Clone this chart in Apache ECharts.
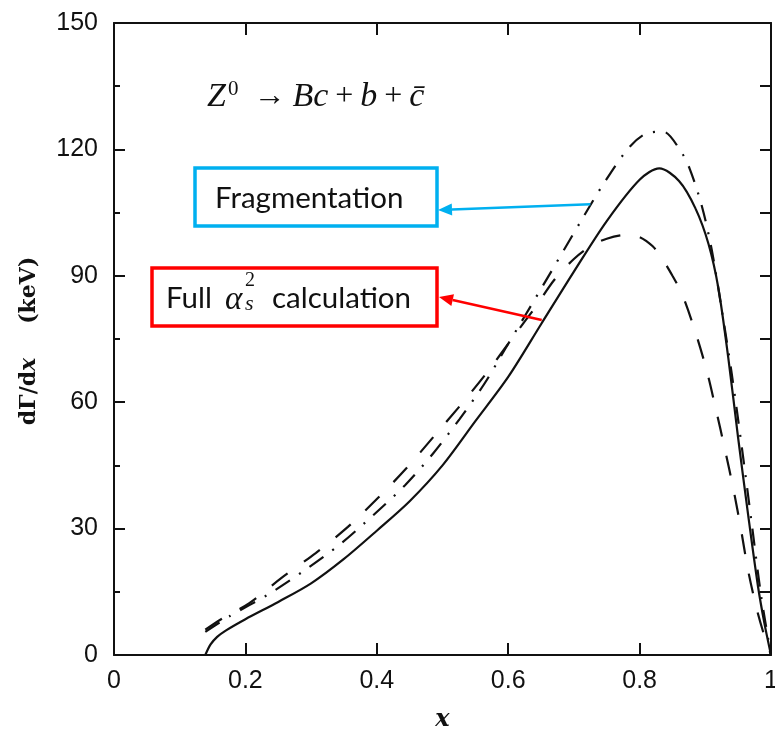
<!DOCTYPE html>
<html>
<head>
<meta charset="utf-8">
<script src="https://cdn.jsdelivr.net/npm/echarts@6/dist/echarts.min.js"></script>
<style>
html,body{margin:0;padding:0;background:#fff;}
#chart{width:775px;height:731px;}
</style>
</head>
<body>
<div id="chart"></div>
<script>
// Axis ranges and tick steps
const xRange = [0, 1];
const xStep = 0.2;
const yRange = [0, 150];
const yStep = 30;
const yFrameStep = 15;

// Full alpha_s^2 calculation (solid)
const fullX = [0.139,0.147,0.157,0.17,0.2,0.25,0.3,0.35,0.4,0.45,0.5,0.55,0.6,0.65,0.7,0.75,0.8,0.83,0.86,0.885,0.905,0.92,0.935,0.95,0.965,0.98,0.99,1.0];
const fullY = [0,2.5,4.3,5.8,8.5,12.6,17,22.8,29.5,36.5,45,55.5,66,78.5,91,103,112.8,115.5,112.5,106,97.5,87,70.5,51.5,33.5,16.5,7.5,0];

// Fragmentation approximation (dash-dot)
const fragX = [0.139,0.177,0.235,0.291,0.345,0.394,0.443,0.486,0.526,0.563,0.596,0.656,0.713,0.747,0.783,0.809,0.836,0.861,0.876,0.895,0.91,0.925,0.94,0.955,0.97,0.985,1.0];
const fragY = [5.5,9.3,14.4,20.2,26.4,33.1,40.3,47.9,56,64.2,72.8,88.5,103.6,112.3,120.3,123.7,124.2,120,115.5,106.4,96,82,67,50,32,14,0];

// Third curve (dashed)
const dashX = [0.139,0.163,0.206,0.255,0.307,0.356,0.402,0.445,0.487,0.528,0.567,0.61,0.642,0.67,0.7,0.725,0.75,0.78,0.8,0.82,0.834,0.85,0.864,0.884,0.902,0.916,0.93,0.943,0.954,0.965,0.978,0.99,1.0];
const dashY = [6,8.5,12.3,18.3,24.2,30.4,37.3,44.3,51.9,59.4,66.9,76,82.7,89,94,97,98.8,99.7,99.2,97,94.2,90,85.9,77.1,67.6,58.4,48.7,39.2,30.1,20.2,11.1,4.5,0];

// Points on the curves where the callout arrows start
const fragArrowAt = [0.725, 107];
const fullArrowAt = [0.651, 79.5];

const pairs = (xs, ys) => xs.map((x, i) => [x, ys[i]]);

const INK = '#111';
const labelFont = 'Liberation Sans';

const chart = echarts.init(document.getElementById('chart'), null, {renderer: 'canvas'});

const frameAxisX = (pos) => ({
  type: 'value', position: pos, min: xRange[0], max: xRange[1], interval: xStep,
  axisLine: {show: true, onZero: false, lineStyle: {color: INK, width: 2}},
  axisTick: {show: true, inside: true, length: 12, lineStyle: {color: INK, width: 2}},
  splitLine: {show: false}
});

chart.setOption({
  animation: false,
  backgroundColor: '#fff',
  grid: {left: 114, right: 4, top: 23, bottom: 76, containLabel: false, outerBoundsMode: 'none'},
  xAxis: [
    Object.assign(frameAxisX('bottom'), {
      axisLabel: {
        show: true, margin: 14, color: INK, fontSize: 25, fontFamily: labelFont,
        formatter: v => (v === 0 || v === 1) ? String(v) : v.toFixed(1)
      },
      name: 'x', nameLocation: 'middle', nameGap: 53,
      nameTextStyle: {color: INK, fontSize: 24, fontWeight: 'bold', fontStyle: 'italic', fontFamily: 'DejaVu Serif'}
    }),
    Object.assign(frameAxisX('top'), {axisLabel: {show: false}})
  ],
  yAxis: [
    {
      type: 'value', position: 'left', min: yRange[0], max: yRange[1], interval: yStep,
      axisLine: {show: true, onZero: false, lineStyle: {color: INK, width: 2}},
      axisTick: {show: true, inside: true, length: 11, lineStyle: {color: INK, width: 2}},
      minorTick: {show: true, splitNumber: 2, length: 6, lineStyle: {color: INK, width: 2}},
      axisLabel: {show: true, margin: 16, color: INK, fontSize: 25, fontFamily: labelFont},
      splitLine: {show: false}
    },
    {
      type: 'value', position: 'right', min: yRange[0], max: yRange[1], interval: yFrameStep,
      axisLine: {show: true, onZero: false, lineStyle: {color: INK, width: 2}},
      axisTick: {show: true, inside: true, length: 11, lineStyle: {color: INK, width: 2}},
      axisLabel: {show: false},
      splitLine: {show: false}
    }
  ],
  series: [
    {
      name: 'Full', type: 'line', xAxisIndex: 0, yAxisIndex: 0,
      data: pairs(fullX, fullY), showSymbol: false, smooth: 0.3,
      lineStyle: {color: INK, width: 2.2}
    },
    {
      name: 'Fragmentation', type: 'line', xAxisIndex: 0, yAxisIndex: 0,
      data: pairs(fragX, fragY), showSymbol: false, smooth: 0.3,
      lineStyle: {color: INK, width: 2.2, type: [17, 11, 2, 11]}
    },
    {
      name: 'Dashed', type: 'line', xAxisIndex: 0, yAxisIndex: 0,
      data: pairs(dashX, dashY), showSymbol: false, smooth: 0.3,
      lineStyle: {color: INK, width: 2.2, type: [20, 20]}
    }
  ]
});

// Arrow from a point on a curve to the edge of a callout box
function arrow(from, to, color) {
  const dx = to[0] - from[0], dy = to[1] - from[1];
  const len = Math.hypot(dx, dy);
  const ux = dx / len, uy = dy / len;
  const hl = 14, hw = 6;
  const bx = to[0] - ux * hl, by = to[1] - uy * hl;
  return [
    {type: 'line', shape: {x1: from[0], y1: from[1], x2: bx, y2: by},
     style: {stroke: color, lineWidth: 2.5}, z: 20},
    {type: 'polygon', shape: {points: [to, [bx - uy * hw, by + ux * hw], [bx + uy * hw, by - ux * hw]]},
     style: {fill: color}, z: 20}
  ];
}

const toPx = p => chart.convertToPixel({xAxisIndex: 0, yAxisIndex: 0}, p);
const BLUE = '#00B0F0';
const RED = '#FF0000';
const serif = 'Liberation Serif';
const sans = 'Lato';

const graphics = [
  // Process label
  {type: 'text', x: 207, y: 97, z: 30, style: {
    text: '{i|Z}{s|0}{u|→}{i|Bc}{u|+}{i|b}{u|+}{i|c\u0304}',
    verticalAlign: 'middle', fill: INK,
    rich: {
      i: {fontFamily: serif, fontStyle: 'italic', fontSize: 34, fill: INK},
      u: {fontFamily: serif, fontSize: 32, fill: INK, padding: [0, 7, 0, 7]},
      s: {fontFamily: serif, fontSize: 21, fill: INK, verticalAlign: 'top', padding: [0, 8, 16, 2]}
    }
  }},
  // Fragmentation callout
  {type: 'rect', shape: {x: 195, y: 168, width: 242, height: 58},
   style: {fill: '#fff', stroke: BLUE, lineWidth: 3.5}, z: 25},
  {type: 'text', x: 215, y: 198, z: 30, style: {
    text: 'Fragmentation', fontFamily: sans, fontSize: 29.5, fill: INK, verticalAlign: 'middle'}},
  // Full calculation callout
  {type: 'rect', shape: {x: 152, y: 268, width: 285, height: 58},
   style: {fill: '#fff', stroke: RED, lineWidth: 3.5}, z: 25},
  {type: 'text', x: 166, y: 298, z: 30, style: {
    text: 'Full', fontFamily: sans, fontSize: 29.5, fill: INK, verticalAlign: 'middle'}},
  {type: 'text', x: 225, y: 300, z: 30, style: {
    text: 'α', fontFamily: serif, fontStyle: 'italic', fontSize: 33, fill: INK, verticalAlign: 'middle'}},
  {type: 'text', x: 245, y: 281, z: 30, style: {
    text: '2', fontFamily: serif, fontSize: 20, fill: INK, verticalAlign: 'middle'}},
  {type: 'text', x: 245, y: 304, z: 30, style: {
    text: 's', fontFamily: serif, fontStyle: 'italic', fontSize: 22, fill: INK, verticalAlign: 'middle'}},
  {type: 'text', x: 272, y: 298, z: 30, style: {
    text: 'calculation', fontFamily: sans, fontSize: 29.5, fill: INK, verticalAlign: 'middle'}},
  // Vertical axis title
  {type: 'text', x: 29, y: 341, rotation: Math.PI / 2, z: 30, style: {
    text: '{n|dΓ/d}{i|x}{g| }{n|(keV)}', align: 'center', verticalAlign: 'middle',
    rich: {
      n: {fontFamily: 'DejaVu Serif', fontWeight: 'bold', fontSize: 22, fill: INK},
      i: {fontFamily: 'DejaVu Serif', fontWeight: 'bold', fontStyle: 'italic', fontSize: 22, fill: INK},
      g: {width: 34, fontSize: 22}
    }
  }}
];

graphics.push(...arrow(toPx(fragArrowAt), [438, 210], BLUE));
graphics.push(...arrow(toPx(fullArrowAt), [439, 297], RED));

chart.setOption({graphic: graphics});
</script>
</body>
</html>
